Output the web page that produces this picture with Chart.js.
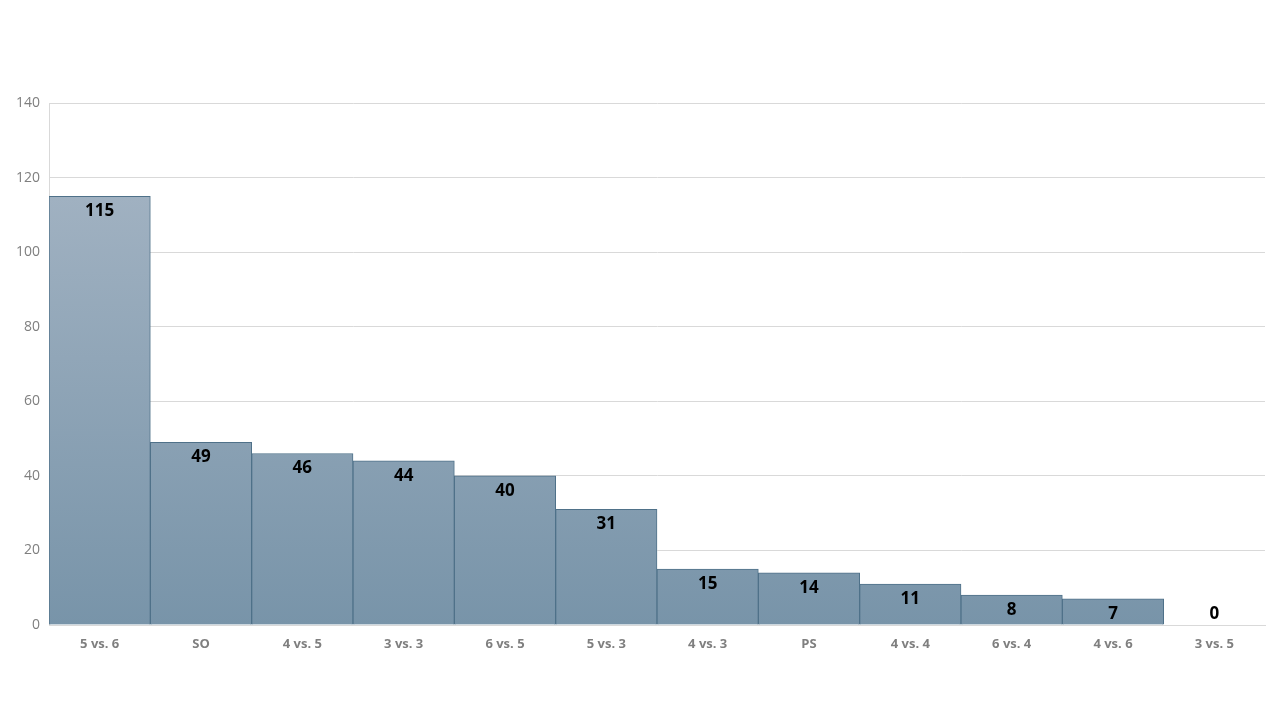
<!DOCTYPE html>
<html><head><meta charset="utf-8">
<script src="https://cdn.jsdelivr.net/npm/chart.js@4"></script>
<style>html,body{margin:0;padding:0;background:#fff}#wrap{width:1280px;height:720px}</style>
</head><body><div id="wrap"><canvas id="c" width="1280" height="720"></canvas></div>
<script>
const categories = ["5 vs. 6","SO","4 vs. 5","3 vs. 3","6 vs. 5","5 vs. 3","4 vs. 3","PS","4 vs. 4","6 vs. 4","4 vs. 6","3 vs. 5"];
const values = [115,49,46,44,40,31,15,14,11,8,7,0];
const yTicks = [0,20,40,60,80,100,120,140];

const labelPlugin = {
  id:'labels',
  afterDatasetsDraw(chart){
    const ctx = chart.ctx;
    const meta = chart.getDatasetMeta(0);
    const bottom = chart.chartArea.bottom;
    ctx.save();
    ctx.font = 'bold 17px "Open Sans", sans-serif';
    ctx.fillStyle = '#000';
    ctx.textAlign = 'center';
    ctx.textBaseline = 'middle';
    meta.data.forEach((bar,i)=>{
      const y = Math.min(bar.y + 15, bottom - 11);
      ctx.fillText(String(values[i]), bar.x, y);
    });
    ctx.restore();
  }
};

new Chart(document.getElementById('c'), {
  type:'bar',
  data:{labels:categories, datasets:[{
    data:values,
    backgroundColor:(c)=>{
      const a = c.chart.chartArea;
      if(!a) return '#8aa0b3';
      const g = c.chart.ctx.createLinearGradient(0,a.top,0,a.bottom);
      g.addColorStop(0,'#a8b8c7');
      g.addColorStop(0.18,'#a0b1c1');
      g.addColorStop(1,'#7894a9');
      return g;
    },
    borderColor:'#4f7189',
    borderWidth:1,
    borderSkipped:'bottom',
    categoryPercentage:1,
    barPercentage:1
  }]},
  options:{
    responsive:false,
    animation:false,
    layout:{padding:{left:0,right:15,top:103,bottom:0}},
    plugins:{legend:{display:false},tooltip:{enabled:false}},
    scales:{
      x:{
        grid:{display:false, drawTicks:false},
        border:{color:'#d9d9d9'},
        ticks:{color:'#7f7f7f', padding:11, font:{family:'"Open Sans", sans-serif', size:13, weight:'bold'}, maxRotation:0},
        afterFit(s){ s.height = 95; }
      },
      y:{
        min:0,max:140,
        afterBuildTicks(s){ s.ticks = yTicks.map(v=>({value:v})); },
        grid:{color:'#d9d9d9', drawTicks:false},
        border:{color:'#d9d9d9'},
        ticks:{color:'#7f7f7f', padding:9, font:{family:'"Open Sans", sans-serif', size:14}},
        afterFit(s){ s.width = 49; }
      }
    }
  },
  plugins:[labelPlugin]
});
</script></body></html>
